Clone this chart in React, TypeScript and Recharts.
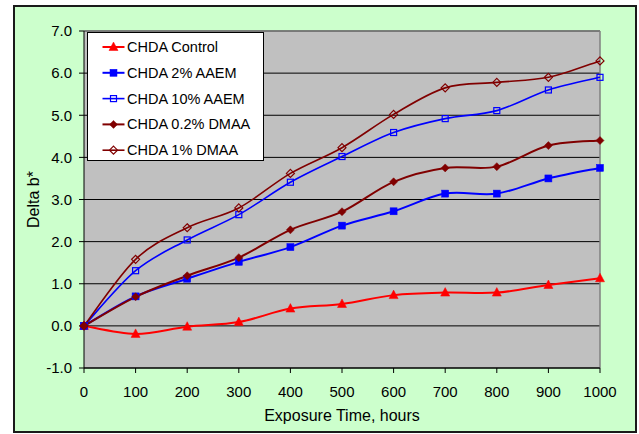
import React from "react";
import {
  LineChart,
  Line,
  XAxis,
  YAxis,
  CartesianGrid,
  ReferenceLine,
} from "recharts";

const hours = [0, 100, 200, 300, 400, 500, 600, 700, 800, 900, 1000];
const control = [0, -0.19, -0.02, 0.09, 0.41, 0.52, 0.73, 0.79, 0.79, 0.97, 1.13];
const aaem2 = [0, 0.7, 1.12, 1.52, 1.87, 2.38, 2.72, 3.14, 3.14, 3.5, 3.75];
const aaem10 = [0, 1.31, 2.04, 2.64, 3.41, 4.02, 4.59, 4.92, 5.11, 5.6, 5.9];
const dmaa02 = [0, 0.69, 1.19, 1.62, 2.28, 2.71, 3.42, 3.75, 3.78, 4.28, 4.4];
const dmaa1 = [0, 1.58, 2.33, 2.8, 3.62, 4.23, 5.02, 5.65, 5.78, 5.9, 6.29];
const yTicks = [-1, 0, 1, 2, 3, 4, 5, 6, 7];

const data = hours.map((h, i) => ({
  h,
  control: control[i],
  aaem2: aaem2[i],
  aaem10: aaem10[i],
  dmaa02: dmaa02[i],
  dmaa1: dmaa1[i],
}));

type Shape = "triangle" | "square" | "diamond";

interface SeriesDef {
  key: string;
  name: string;
  color: string;
  shape: Shape;
  filled: boolean;
  width: number;
}

const series: SeriesDef[] = [
  { key: "control", name: "CHDA Control", color: "#FF0000", shape: "triangle", filled: true, width: 2 },
  { key: "aaem2", name: "CHDA 2% AAEM", color: "#0000FF", shape: "square", filled: true, width: 2 },
  { key: "aaem10", name: "CHDA 10% AAEM", color: "#0000FF", shape: "square", filled: false, width: 1.6 },
  { key: "dmaa02", name: "CHDA 0.2% DMAA", color: "#800000", shape: "diamond", filled: true, width: 2 },
  { key: "dmaa1", name: "CHDA 1% DMAA", color: "#800000", shape: "diamond", filled: false, width: 1.6 },
];

const font = '"Liberation Sans", Arial, sans-serif';

// excel-ish smoothed line (catmull-rom style bezier)
const excelSmooth = (context: any) => {
  let pts: [number, number][] = [];
  return {
    areaStart() {},
    areaEnd() {},
    lineStart() {
      pts = [];
    },
    lineEnd() {
      if (!pts.length) return;
      context.moveTo(pts[0][0], pts[0][1]);
      const t = 1 / 6;
      for (let i = 0; i < pts.length - 1; i++) {
        const p0 = pts[Math.max(i - 1, 0)];
        const p1 = pts[i];
        const p2 = pts[i + 1];
        const p3 = pts[Math.min(i + 2, pts.length - 1)];
        context.bezierCurveTo(
          p1[0] + (p2[0] - p0[0]) * t,
          p1[1] + (p2[1] - p0[1]) * t,
          p2[0] - (p3[0] - p1[0]) * t,
          p2[1] - (p3[1] - p1[1]) * t,
          p2[0],
          p2[1]
        );
      }
    },
    point(x: number, y: number) {
      pts.push([+x, +y]);
    },
  };
};

function Marker({ cx, cy, shape, color, filled }: { cx: number; cy: number; shape: Shape; color: string; filled: boolean }) {
  const fill = filled ? color : "none";
  const sw = filled ? 0.5 : 1.2;
  if (shape === "triangle") {
    return (
      <polygon
        points={`${cx},${cy - 5} ${cx + 4.5},${cy + 3.5} ${cx - 4.5},${cy + 3.5}`}
        fill={fill}
        stroke={color}
        strokeWidth={sw}
      />
    );
  }
  if (shape === "square") {
    const s = filled ? 7 : 6;
    return <rect x={cx - s / 2} y={cy - s / 2} width={s} height={s} fill={fill} stroke={color} strokeWidth={sw} />;
  }
  return (
    <polygon
      points={`${cx},${cy - 4} ${cx + 4},${cy} ${cx},${cy + 4} ${cx - 4},${cy}`}
      fill={fill}
      stroke={color}
      strokeWidth={sw}
    />
  );
}

function LegendBox() {
  return (
    <svg
      width={177}
      height={129}
      style={{ position: "absolute", left: 72, top: 25, background: "#fff", border: "1px solid #000", boxSizing: "border-box" }}
    >
      {series.map((s, i) => {
        const y = 14 + i * 25.8;
        return (
          <g key={s.key}>
            <line x1={14.5} x2={36.5} y1={y} y2={y} stroke={s.color} strokeWidth={s.width} />
            <Marker cx={25.5} cy={y} shape={s.shape} color={s.color} filled={s.filled} />
            <text x={39} y={y} dominantBaseline="central" fontSize={14.5} fontFamily={font} fill="#000">
              {s.name}
            </text>
          </g>
        );
      })}
    </svg>
  );
}

export default function App() {
  return (
    <div
      style={{
        position: "absolute",
        left: 13,
        top: 5,
        width: 624,
        height: 428,
        boxSizing: "border-box",
        border: "2px solid #1a1a1a",
        background: "#CCFFCC",
        fontFamily: font,
      }}
    >
      <LineChart width={620} height={424} data={data} margin={{ top: 24, right: 35, left: 9, bottom: 3 }}>
        <CartesianGrid vertical={false} stroke="#000" fill="#C0C0C0" fillOpacity={1} />
        <ReferenceLine y={7} stroke="#808080" strokeWidth={1.5} />
        <ReferenceLine x={1000} stroke="#808080" strokeWidth={1.5} />
        <XAxis
          dataKey="h"
          type="number"
          domain={[0, 1000]}
          ticks={hours}
          height={60}
          tickSize={5}
          tickMargin={13}
          stroke="#000"
          tick={{ fontSize: 15, fill: "#000", fontFamily: font }}
          label={{ value: "Exposure Time, hours", position: "insideBottom", offset: 7, fontSize: 16, fill: "#000", fontFamily: font }}
        />
        <YAxis
          type="number"
          domain={[-1, 7]}
          ticks={yTicks}
          width={60}
          tickSize={5}
          tickMargin={7}
          stroke="#000"
          tickFormatter={(v: number) => v.toFixed(1)}
          tick={{ fontSize: 15, fill: "#000", fontFamily: font }}
          label={{ value: "Delta b*", angle: -90, position: "insideLeft", offset: 9, fontSize: 16, fill: "#000", fontFamily: font, style: { textAnchor: "middle" } }}
        />
        {series.map((s) => (
          <Line
            key={s.key}
            dataKey={s.key}
            name={s.name}
            type={excelSmooth as any}
            stroke={s.color}
            strokeWidth={s.width}
            isAnimationActive={false}
            dot={(p: any) => (
              <Marker key={`${s.key}-${p.index}`} cx={p.cx} cy={p.cy} shape={s.shape} color={s.color} filled={s.filled} />
            )}
            activeDot={false}
          />
        ))}
      </LineChart>
      <LegendBox />
    </div>
  );
}
